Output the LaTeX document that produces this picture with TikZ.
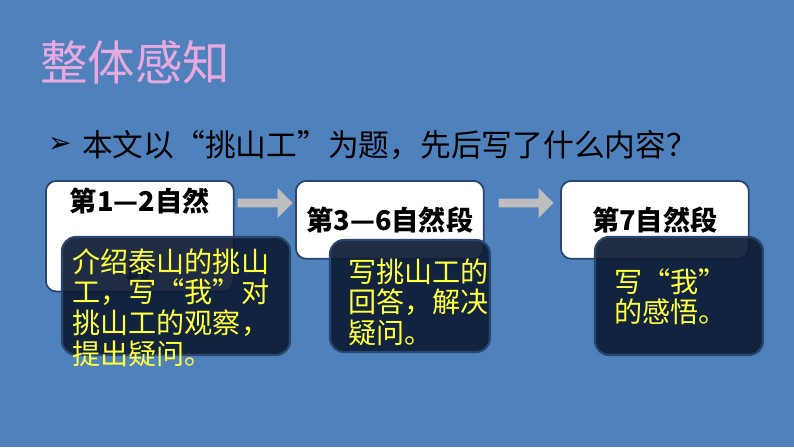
\documentclass[tikz,border=0pt]{standalone}
\usepackage{fontspec}
\newfontfamily\cjk{Noto Sans CJK SC}
\newfontfamily\symf{DejaVu Sans}
\usetikzlibrary{shapes.arrows, positioning}
\definecolor{colBg}{RGB}{79,129,189}
\definecolor{colTitle}{RGB}{232,170,222}
\definecolor{colDark}{RGB}{14,28,54}
\definecolor{colEdge}{RGB}{40,70,110}
\definecolor{colYel}{RGB}{255,255,60}
\definecolor{colArrow}{RGB}{190,190,190}
\tikzset{
    parabox/.style={draw=colEdge, fill=white, rounded corners=6pt, line width=1pt,
        minimum width=3.76cm, minimum height=1.56cm, anchor=north west,
        font=\cjk\fontsize{15.5}{40}\selectfont\bfseries, inner sep=2pt},
    notebox/.style={draw=colEdge, fill=colDark, fill opacity=0.93,
        rounded corners=8pt, line width=1.2pt},
    notetext/.style={text=colYel, font=\cjk\fontsize{16}{17.5}\selectfont, align=left,
        anchor=north west, inner sep=0pt},
    steparrow/.style={single arrow, fill=colArrow, draw=none,
        minimum height=1.1cm, single arrow head extend=3pt, minimum width=0.6cm, inner sep=1pt}
}
\begin{document}
\begin{tikzpicture}[x=0.02cm, y=-0.02cm]
    \fill[colBg] (0,0) rectangle (794,447);
    % --- Judul ---
    \node[anchor=west, text=colTitle, font=\cjk\fontsize{27}{32}\selectfont] (title) at (34,62) {整体感知};
    \node[anchor=west, font=\symf\fontsize{16}{18}\selectfont\bfseries] (bullet) at (42,145) {➢};
    \node[anchor=west, font=\cjk\fontsize{17.5}{20}\selectfont] (question) at (76,145)
        {本文以“挑山工”为题，先后写了什么内容？};

    % --- Kotak paragraf ---
    \node[parabox, align=center, text width=3.5cm, anchor=north west, inner ysep=4pt] (p1) at (45,180)
        {第1—2自然\\段};
    \node[parabox] (p2) at (295,180) {第3—6自然段};
    \node[parabox] (p3) at (560,180) {第7自然段};

    % Panah antar kotak
    \node[steparrow] (a1) at (263,203) {};
    \node[steparrow] (a2) at (524,203) {};

    % --- Kotak isi ---
    \draw[notebox] (62,237) rectangle (290,355);
    \draw[notebox] (330,240) rectangle (490,352);
    \draw[notebox] (595,237) rectangle (763,355);
    \node[notetext] (n1) at (72,248) {介绍泰山的挑山\\工，写“我”对\\挑山工的观察，\\提出疑问。};
    \node[notetext] (n2) at (348,258) {写挑山工的\\回答，解决\\疑问。};
    \node[notetext] (n3) at (614,268) {写“我”\\的感悟。};
\end{tikzpicture}
\end{document}
